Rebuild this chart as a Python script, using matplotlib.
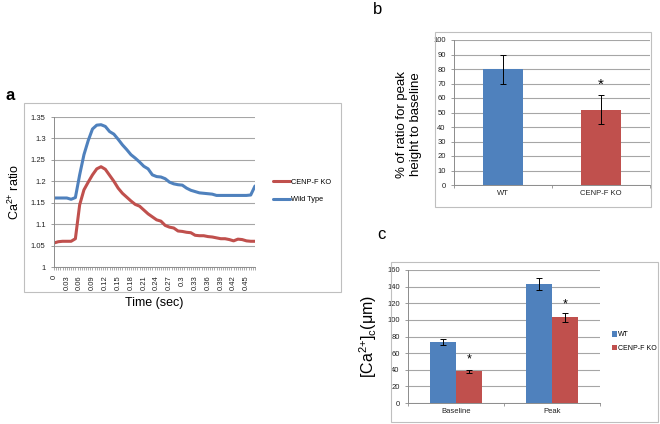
import numpy as np
import matplotlib
matplotlib.use("Agg")
import matplotlib.pyplot as plt
from matplotlib.patches import Rectangle
from matplotlib.ticker import MultipleLocator, FixedLocator

plt.rcParams['font.family'] = ['Liberation Sans', 'DejaVu Sans']
plt.rcParams['mathtext.fontset'] = 'custom'
plt.rcParams['mathtext.rm'] = 'Liberation Sans'
plt.rcParams['mathtext.it'] = 'Liberation Sans:italic'

# panel a: Ca2+ ratio over time
tempo = np.round(np.arange(0, 0.475, 0.01), 2)
wild_type = [1.161, 1.161, 1.161, 1.161, 1.158, 1.162, 1.215, 1.262, 1.295, 1.322,
             1.331, 1.332, 1.328, 1.316, 1.310, 1.298, 1.285, 1.274, 1.262, 1.254,
             1.245, 1.235, 1.229, 1.215, 1.211, 1.210, 1.206, 1.198, 1.194, 1.192,
             1.191, 1.184, 1.179, 1.176, 1.173, 1.172, 1.171, 1.170, 1.167, 1.167,
             1.167, 1.167, 1.167, 1.167, 1.167, 1.167, 1.168, 1.189]
cenpf_ko = [1.056, 1.059, 1.060, 1.060, 1.060, 1.066, 1.145, 1.180, 1.198, 1.215,
            1.229, 1.234, 1.228, 1.214, 1.200, 1.184, 1.172, 1.163, 1.154, 1.146,
            1.142, 1.133, 1.124, 1.117, 1.110, 1.107, 1.097, 1.093, 1.091, 1.084,
            1.083, 1.081, 1.080, 1.074, 1.073, 1.073, 1.071, 1.070, 1.068, 1.066,
            1.066, 1.064, 1.061, 1.065, 1.064, 1.061, 1.060, 1.060]
etichette_x = ["0", "0.03", "0.06", "0.09", "0.12", "0.15", "0.18", "0.21", "0.24",
               "0.27", "0.3", "0.33", "0.36", "0.39", "0.42", "0.45"]

# panel b: % ratio peak/baseline
gruppi_b = ["WT", "CENP-F KO"]
valori_b = [80, 52]
errori_b = [10, 10]
stella_b = [69]

# panel c: [Ca2+]c
gruppi_c = ["Baseline", "Peak"]
wt_c = [73, 143]
wt_err_c = [3.5, 7]
ko_c = [38, 103]
ko_err_c = [2, 5]
stella_c = [52, 118]

BLU = "#4F81BD"
ROSSO = "#C0504D"
GRIGIO = "#8c8c8c"
BORDO = "#bfbfbf"

W, H = 660, 424
fig = plt.figure(figsize=(6.6, 4.24), dpi=100)


def px_axes(x0, y0, x1, y1):
    return fig.add_axes([x0 / W, 1 - y1 / H, (x1 - x0) / W, (y1 - y0) / H])


def box(x0, y0, x1, y1):
    fig.patches.append(Rectangle((x0 / W, 1 - y1 / H), (x1 - x0) / W, (y1 - y0) / H,
                                 transform=fig.transFigure, fill=False,
                                 edgecolor=BORDO, linewidth=0.8))


def stile(ax):
    for s in ["top", "right"]:
        ax.spines[s].set_visible(False)
    for s in ["left", "bottom"]:
        ax.spines[s].set_color(GRIGIO)
        ax.spines[s].set_linewidth(0.7)
    ax.tick_params(colors=GRIGIO, labelcolor="#222222", labelsize=5.5, width=0.6, length=2.5)
    ax.yaxis.grid(True, color="#a6a6a6", linewidth=0.8)
    ax.set_axisbelow(True)


# ---- panel a
box(24, 103, 341, 292)
ax = px_axes(54, 117, 255, 267)
stile(ax)
ax.plot(tempo, cenpf_ko, color=ROSSO, lw=2.2, label="CENP-F KO", solid_capstyle="round")
ax.plot(tempo, wild_type, color=BLU, lw=2.2, label="Wild Type", solid_capstyle="round")
ax.set_xlim(0, 0.47)
ax.set_ylim(1, 1.35)
ax.yaxis.set_major_locator(MultipleLocator(0.05))
ax.set_yticklabels([f"{v:g}" for v in ax.get_yticks()])
pos_lab = [float(s) for s in etichette_x]
ax.xaxis.set_major_locator(FixedLocator(pos_lab))
ax.set_xticklabels(etichette_x, rotation=90)
ax.xaxis.set_minor_locator(MultipleLocator(0.005))
ax.tick_params(axis="x", which="both", colors=GRIGIO, labelcolor="#222222", length=2.5, width=0.5)
ax.set_xlabel("Time (sec)", fontsize=9, labelpad=5)
ax.set_ylabel("Ca$^{2{+}}$ ratio", fontsize=9, labelpad=6)
ax.legend(loc="center left", bbox_to_anchor=(1.09, 0.507), frameon=False, fontsize=5.3,
          handlelength=2.3, handletextpad=0.2, labelspacing=1.4,
          borderpad=0, borderaxespad=0)
fig.text(5 / W, 1 - 95 / H, "a", fontsize=12, fontweight="bold", va="center")

# ---- panel b
box(435, 32, 651, 207)
bx = px_axes(454, 40, 650, 185)
stile(bx)
xb = np.arange(len(gruppi_b)) + 0.5
bx.bar(xb, valori_b, width=0.4, color=[BLU, ROSSO], yerr=errori_b, capsize=2.5,
       error_kw=dict(elinewidth=0.7, capthick=0.7, ecolor="black"))
for xi, sy in zip(xb[1:], stella_b):
    bx.text(xi, sy, "*", ha="center", va="center", fontsize=11)
bx.set_xlim(0, 2)
bx.set_ylim(0, 100)
bx.yaxis.set_major_locator(MultipleLocator(10))
bx.set_xticks(xb)
bx.set_xticklabels(gruppi_b)
bx.xaxis.set_minor_locator(FixedLocator([0, 1, 2]))
bx.tick_params(axis="x", which="major", length=0)
bx.tick_params(axis="x", which="minor", length=2.5, colors=GRIGIO)
bx.set_ylabel("% of ratio for peak\nheight to baseline", fontsize=9.5, labelpad=8, y=0.42)
fig.text(373 / W, 1 - 10 / H, "b", fontsize=12, va="center")

# ---- panel c
box(391, 262, 658, 422)
cx = px_axes(408, 270, 600, 403)
stile(cx)
xc = np.arange(len(gruppi_c)) + 0.5
wb = 0.276
cx.bar(xc - wb / 2, wt_c, width=wb, color=BLU, yerr=wt_err_c, capsize=2, label="WT",
       error_kw=dict(elinewidth=0.7, capthick=0.7, ecolor="black"))
cx.bar(xc + wb / 2, ko_c, width=wb, color=ROSSO, yerr=ko_err_c, capsize=2, label="CENP-F KO",
       error_kw=dict(elinewidth=0.7, capthick=0.7, ecolor="black"))
for xi, sy in zip(xc + wb / 2, stella_c):
    cx.text(xi, sy, "*", ha="center", va="center", fontsize=9)
cx.set_xlim(0, 2)
cx.set_ylim(0, 160)
cx.yaxis.set_major_locator(MultipleLocator(20))
cx.set_xticks(xc)
cx.set_xticklabels(gruppi_c)
cx.xaxis.set_minor_locator(FixedLocator([0, 1, 2]))
cx.tick_params(axis="x", which="major", length=0)
cx.tick_params(axis="x", which="minor", length=2.5, colors=GRIGIO)
cx.set_ylabel("[Ca$^{2{+}}$]$_{\\mathrm{c}}$(\u03bcm)", fontsize=11.5, labelpad=6)
cx.legend(loc="center left", bbox_to_anchor=(1.0625, 0.462), frameon=False, fontsize=5,
          handlelength=0.75, handleheight=0.75, handletextpad=0.15, labelspacing=0.9,
          borderpad=0, borderaxespad=0)
fig.text(377 / W, 1 - 235 / H, "c", fontsize=12, va="center")

fig.savefig("out.png", dpi=100)
